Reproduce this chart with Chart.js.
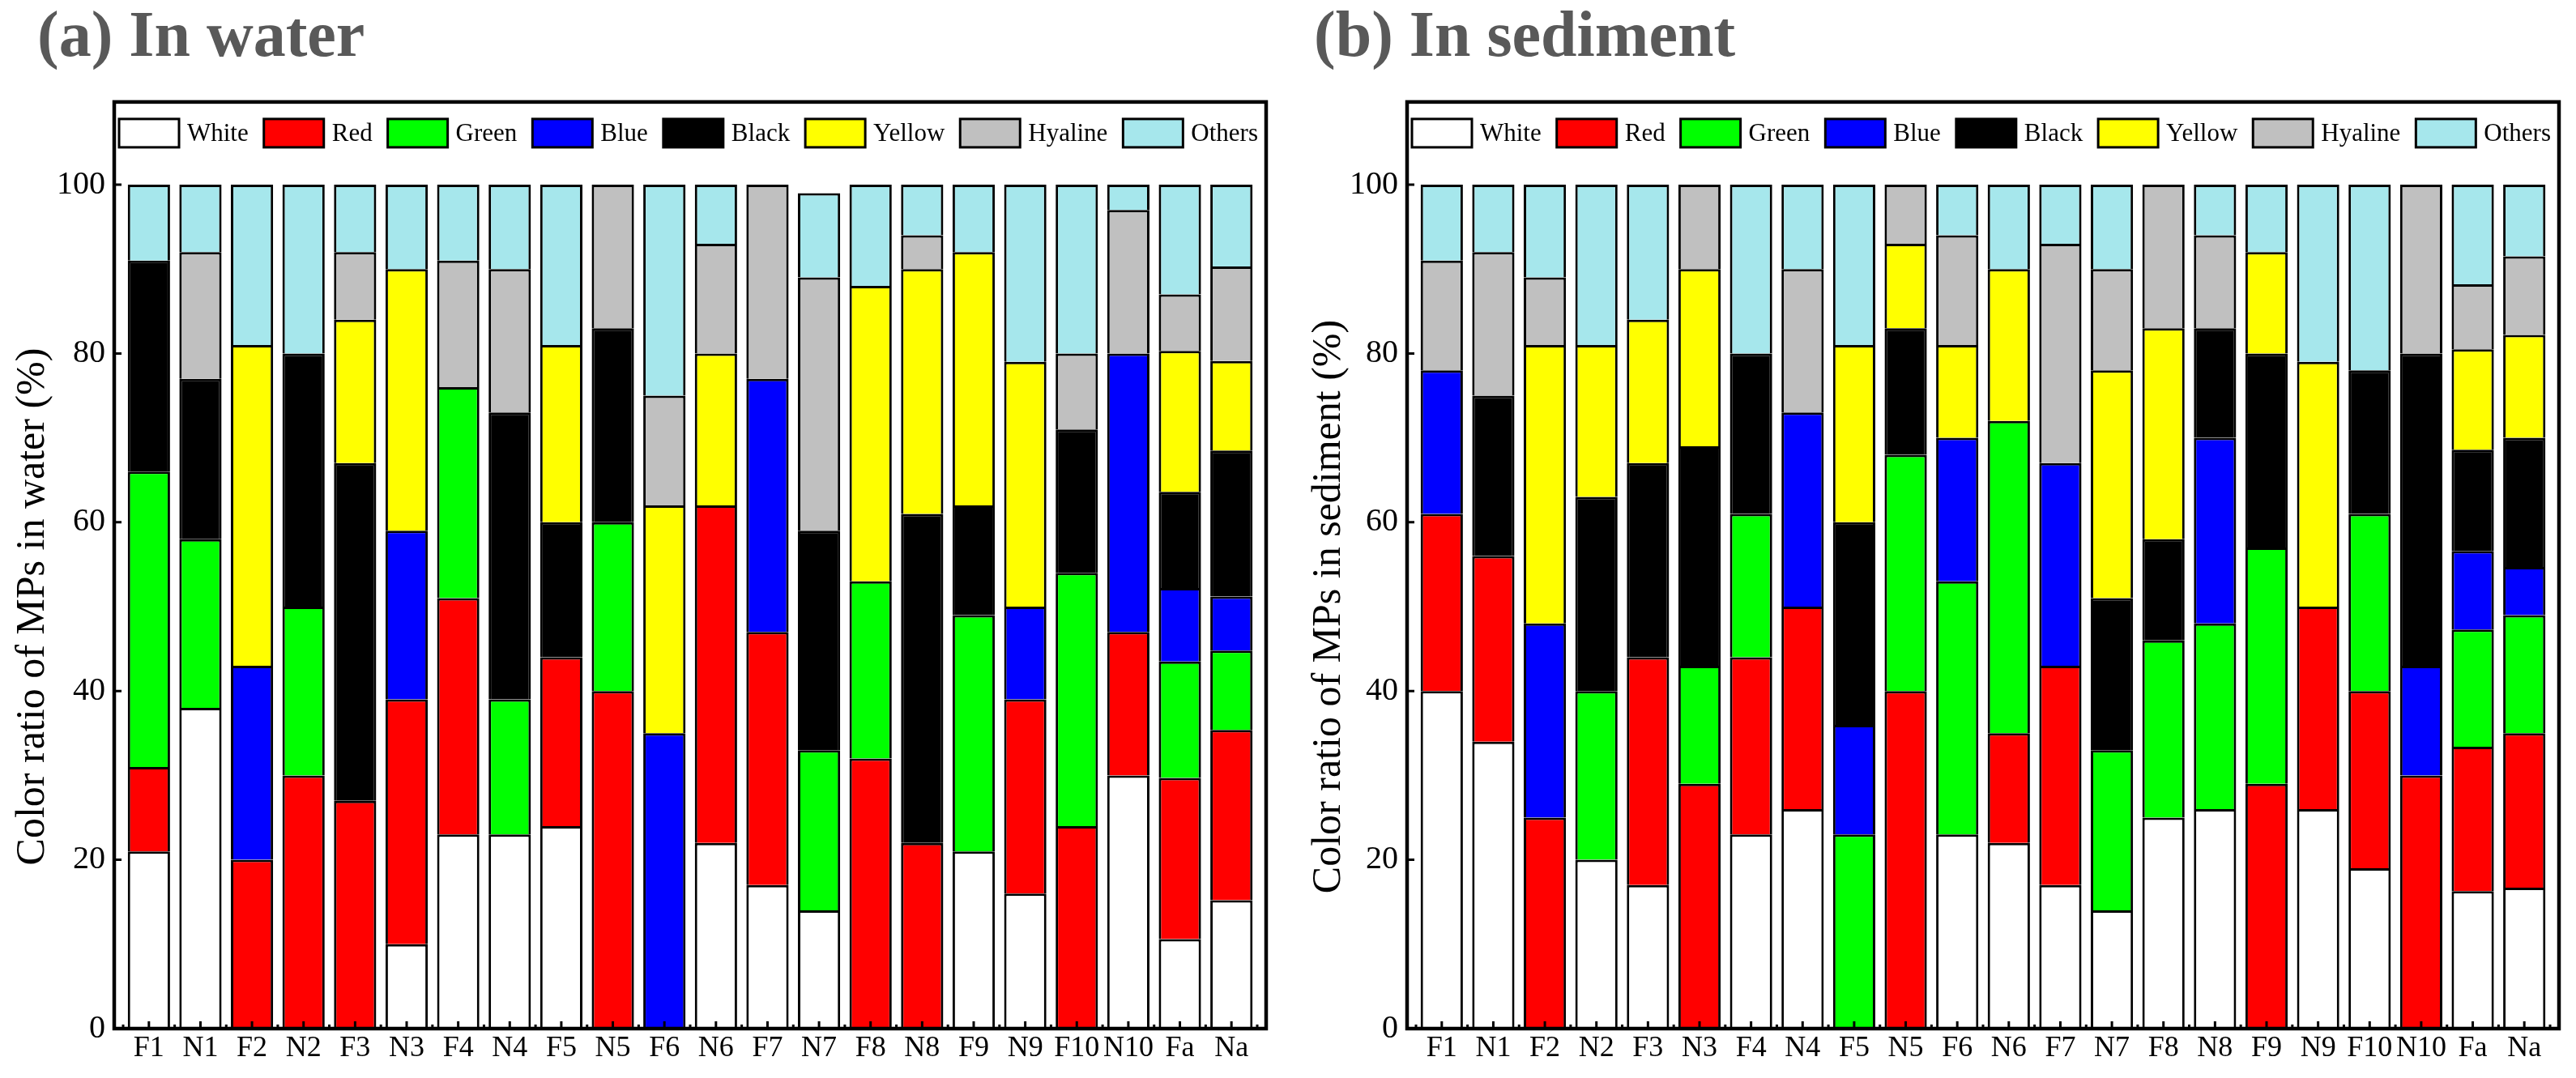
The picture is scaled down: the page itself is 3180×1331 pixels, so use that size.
<!DOCTYPE html>
<html>
<head>
<meta charset="utf-8">
<script src="https://cdn.jsdelivr.net/npm/chart.js@4.4.1/dist/chart.umd.min.js"></script>
<style>
  html, body { margin: 0; padding: 0; background: #fff; }
  #wrap { position: relative; width: 3180px; height: 1331px; overflow: hidden; }
  canvas { position: absolute; top: 0; }
</style>
</head>
<body>
<div id="wrap">
  <canvas id="waterChart" width="1590" height="1331" style="left:0;width:1590px;height:1331px"></canvas>
  <canvas id="sedimentChart" width="1590" height="1331" style="left:1590px;width:1590px;height:1331px"></canvas>
</div>
<script>
const sites = ['F1', 'N1', 'F2', 'N2', 'F3', 'N3', 'F4', 'N4', 'F5', 'N5', 'F6', 'N6',
               'F7', 'N7', 'F8', 'N8', 'F9', 'N9', 'F10', 'N10', 'Fa', 'Na'];
const colorNames = ['White', 'Red', 'Green', 'Blue', 'Black', 'Yellow', 'Hyaline', 'Others'];
const colorFills = ['#ffffff', '#ff0000', '#00ff00', '#0000ff', '#000000', '#ffff00', '#c0c0c0', '#a6e7ec'];
const yTicks = [0, 20, 40, 60, 80, 100];

// (a) water, % of MPs per colour
const waterWhite   = [21, 38, 0, 0, 0, 10, 23, 23, 24, 0, 0, 22, 17, 14, 0, 0, 21, 16, 0, 30, 10.6, 15.2];
const waterRed     = [10, 0, 20, 30, 27, 29, 28, 0, 20, 40, 0, 40, 30, 0, 32, 22, 0, 23, 24, 17, 19.1, 20.2];
const waterGreen   = [35, 20, 0, 20, 0, 0, 25, 16, 0, 20, 0, 0, 0, 19, 21, 0, 28, 0, 30, 0, 13.8, 9.4];
const waterBlue    = [0, 0, 23, 0, 0, 20, 0, 0, 0, 0, 35, 0, 30, 0, 0, 0, 0, 11, 0, 33, 8.7, 6.4];
const waterBlack   = [25, 19, 0, 30, 40, 0, 0, 34, 16, 23, 0, 0, 0, 26, 0, 39, 13, 0, 17, 0, 11.4, 17.3];
const waterYellow  = [0, 0, 38, 0, 17, 31, 0, 0, 21, 0, 27, 18, 0, 0, 35, 29, 30, 29, 0, 0, 16.7, 10.6];
const waterHyaline = [0, 15, 0, 0, 8, 0, 15, 17, 0, 17, 13, 13, 23, 30, 0, 4, 0, 0, 9, 17, 6.7, 11.2];
const waterOthers  = [9, 8, 19, 20, 8, 10, 9, 10, 19, 0, 25, 7, 0, 10, 12, 6, 8, 21, 20, 3, 13, 9.7];

// (b) sediment
const sedWhite   = [40, 34, 0, 20, 17, 0, 23, 26, 0, 0, 23, 22, 17, 14, 25, 26, 0, 26, 19, 0, 16.3, 16.7];
const sedRed     = [21, 22, 25, 0, 27, 29, 21, 24, 0, 40, 0, 13, 26, 0, 0, 0, 29, 24, 21, 30, 17.1, 18.3];
const sedGreen   = [0, 0, 0, 20, 0, 14, 17, 0, 23, 28, 30, 37, 0, 19, 21, 22, 28, 0, 21, 0, 13.9, 14.0];
const sedBlue    = [17, 0, 23, 0, 0, 0, 0, 23, 13, 0, 17, 0, 24, 0, 0, 22, 0, 0, 0, 13, 9.3, 5.7];
const sedBlack   = [0, 19, 0, 23, 23, 26, 19, 0, 24, 15, 0, 0, 0, 18, 12, 13, 23, 0, 17, 37, 12.0, 15.3];
const sedYellow  = [0, 0, 33, 18, 17, 21, 0, 0, 21, 10, 11, 18, 0, 27, 25, 0, 12, 29, 0, 0, 11.9, 12.2];
const sedHyaline = [13, 17, 8, 0, 0, 10, 0, 17, 0, 7, 13, 0, 26, 12, 17, 11, 0, 0, 0, 20, 7.7, 9.3];
const sedOthers  = [9, 8, 11, 19, 16, 0, 20, 10, 19, 0, 6, 10, 7, 10, 0, 6, 8, 21, 22, 0, 11.8, 8.5];

const FONT = "'Liberation Serif', 'Times New Roman', serif";
const FRAME_GAP = 11;   // frame sits a little outside the category range

// frame round plot + legend inside it + inward tick marks
const framePlugin = {
    id: 'frame',
    afterDatasetsDraw(chart) {
        const { ctx, chartArea: a, scales: { x, y } } = chart;
        const left = a.left - FRAME_GAP, right = a.right + FRAME_GAP;
        const top = y.getPixelForValue(109.8);
        ctx.save();
        ctx.strokeStyle = '#000';
        ctx.lineWidth = 3;
        ctx.beginPath();
        yTicks.forEach(v => {
            const py = y.getPixelForValue(v);
            ctx.moveTo(left, py);
            ctx.lineTo(left + 9, py);
        });
        const half = (x.getPixelForTick(1) - x.getPixelForTick(0)) / 2;
        sites.forEach((s, i) => {
            const px = x.getPixelForTick(i);
            ctx.moveTo(px, a.bottom);
            ctx.lineTo(px, a.bottom - 9);
            ctx.moveTo(px - half, a.bottom);
            ctx.lineTo(px - half, a.bottom - 5);
        });
        ctx.moveTo(a.right, a.bottom);
        ctx.lineTo(a.right, a.bottom - 5);
        ctx.stroke();

        ctx.lineWidth = 4.5;
        ctx.strokeRect(left, top, right - left, a.bottom - top);

        // legend
        const boxW = 74, boxH = 35, gap = 10;
        ctx.font = `31px ${FONT}`;
        ctx.textBaseline = 'middle';
        ctx.textAlign = 'left';
        const items = chart.data.datasets.map(d => ({
            label: d.label, fill: d.backgroundColor,
            w: boxW + gap + ctx.measureText(d.label).width
        }));
        const x0 = left + 6, x1 = right - 10;
        const total = items.reduce((s, it) => s + it.w, 0);
        const spacing = (x1 - x0 - total) / (items.length - 1);
        const ly = top + 38.5;
        let cx = x0;
        ctx.lineWidth = 3;
        items.forEach(it => {
            ctx.fillStyle = it.fill;
            ctx.fillRect(cx, ly - boxH / 2, boxW, boxH);
            ctx.strokeRect(cx, ly - boxH / 2, boxW, boxH);
            ctx.fillStyle = '#000';
            ctx.fillText(it.label, cx + boxW + gap, ly + 1);
            cx += it.w + spacing;
        });
        ctx.restore();
    }
};

function makeChart(id, title, yLabel, series, pad) {
    const datasets = colorNames.map((name, i) => ({
        label: name,
        data: series[i].map(v => (v === 0 ? null : v)),
        backgroundColor: colorFills[i],
        borderColor: '#000',
        borderWidth: 3,
        barPercentage: 0.82,
        categoryPercentage: 1.0
    }));

    new Chart(document.getElementById(id).getContext('2d'), {
        type: 'bar',
        data: { labels: sites, datasets },
        plugins: [framePlugin],
        options: {
            responsive: false,
            animation: false,
            layout: { padding: { left: pad.left, right: pad.right, top: 0, bottom: 0 } },
            plugins: {
                legend: { display: false },
                tooltip: { enabled: false },
                title: {
                    display: true,
                    text: title,
                    align: 'start',
                    color: '#595959',
                    font: { family: FONT, size: 80, weight: 'bold' },
                    padding: { top: 0, bottom: 132 }
                }
            },
            scales: {
                x: {
                    stacked: true,
                    grid: { display: false, drawTicks: false },
                    border: { display: false },
                    ticks: { color: '#000', font: { family: FONT, size: 36 }, padding: 3, autoSkip: false, maxRotation: 0 },
                    afterFit: s => { s.height = 61; }
                },
                y: {
                    stacked: true,
                    min: 0,
                    max: 100,
                    grid: { display: false, drawTicks: false },
                    border: { display: false },
                    afterBuildTicks: s => { s.ticks = yTicks.map(v => ({ value: v })); },
                    ticks: { color: '#000', font: { family: FONT, size: 40 }, padding: 22 },
                    title: {
                        display: true,
                        text: yLabel,
                        color: '#000',
                        font: { family: FONT, size: 50 },
                        padding: { top: pad.yTitle, bottom: 0 }
                    },
                    afterFit: s => { s.width = pad.axisLeft - pad.left; }
                }
            }
        }
    });
}

function drawAll() {
    makeChart('waterChart', '(a) In water', 'Color ratio of MPs in water (%)',
        [waterWhite, waterRed, waterGreen, waterBlue, waterBlack, waterYellow, waterHyaline, waterOthers],
        { left: 46, right: 38, axisLeft: 152, yTitle: -35 });

    makeChart('sedimentChart', '(b) In sediment', 'Color ratio of MPs in sediment (%)',
        [sedWhite, sedRed, sedGreen, sedBlue, sedBlack, sedYellow, sedHyaline, sedOthers],
        { left: 32, right: 32, axisLeft: 158, yTitle: -11 });
}

Promise.all([
    document.fonts.load('36px "Liberation Serif"'),
    document.fonts.load('bold 80px "Liberation Serif"')
]).catch(() => {}).then(drawAll);
</script>
</body>
</html>
